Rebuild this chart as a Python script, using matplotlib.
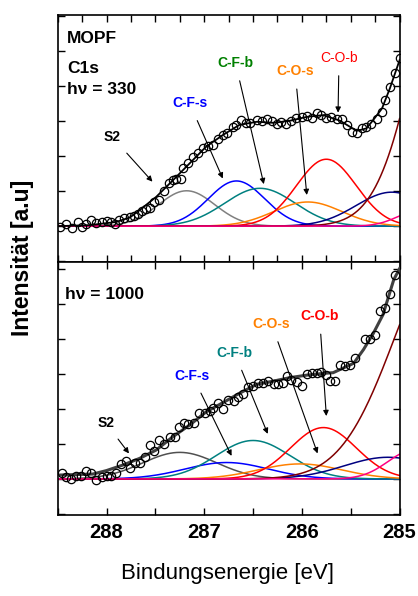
import numpy as np
import matplotlib.pyplot as plt
from matplotlib.ticker import MultipleLocator

plt.rcParams['font.family'] = ['Liberation Sans', 'DejaVu Sans']

# ---- hv = 330 (top panel) ----
e330 = [288.48, 288.41, 288.35, 288.29, 288.25, 288.21, 288.16, 288.11, 288.05, 288.00,
        287.95, 287.91, 287.87, 287.82, 287.76, 287.72, 287.68, 287.64, 287.60, 287.56,
        287.51, 287.46, 287.41, 287.36, 287.32, 287.29, 287.24, 287.22, 287.17, 287.11,
        287.06, 287.01, 286.96, 286.91, 286.86, 286.81, 286.77, 286.71, 286.67, 286.62,
        286.57, 286.53, 286.46, 286.41, 286.36, 286.31, 286.26, 286.21, 286.16, 286.11,
        286.06, 286.00, 285.95, 285.90, 285.85, 285.80, 285.75, 285.70, 285.64, 285.59,
        285.54, 285.49, 285.44, 285.39, 285.34, 285.29, 285.23, 285.18, 285.15, 285.10,
        285.05, 285.00]
i330 = [-0.02, 0.06, -0.04, 0.12, -0.02, 0.06, 0.17, 0.09, 0.12, 0.14,
        0.12, 0.06, 0.17, 0.22, 0.25, 0.29, 0.36, 0.44, 0.48, 0.53,
        0.69, 0.76, 1.01, 1.24, 1.31, 1.36, 1.36, 1.65, 1.81, 1.98,
        2.08, 2.22, 2.29, 2.31, 2.48, 2.60, 2.67, 2.82, 2.89, 3.03,
        2.95, 2.95, 3.03, 3.01, 3.05, 3.01, 2.93, 2.98, 2.91, 3.01,
        3.08, 3.12, 3.14, 3.10, 3.22, 3.17, 3.10, 3.12, 3.05, 3.05,
        2.89, 2.70, 2.67, 2.79, 2.84, 2.91, 3.05, 3.27, 3.60, 3.96,
        4.38, 4.79]
fit_e330 = [288.50, 288.17, 287.90, 287.76, 287.66, 287.49, 287.32, 287.15, 286.98, 286.81,
            286.64, 286.46, 286.29, 286.12, 285.95, 285.78, 285.61, 285.44, 285.34, 285.27,
            285.18, 285.10, 285.00]
fit_i330 = [0.00, 0.03, 0.12, 0.25, 0.46, 0.84, 1.31, 1.79, 2.27, 2.60,
            2.89, 2.98, 2.95, 3.01, 3.12, 3.17, 3.01, 2.72, 2.79, 3.03,
            3.36, 3.93, 4.74]
# peak components: S2, C-F-s, C-F-b, C-O-s, C-O-b, extra1, extra2, extra3
pos330 = [287.18, 286.67, 286.43, 285.94, 285.75, 285.08, 284.30, 284.80]
amp330 = [1.01, 1.29, 1.08, 0.69, 1.91, 0.97, 10.3, 0.44]
fwhm330 = [0.68, 0.68, 0.85, 0.82, 0.72, 0.86, 1.06, 0.52]
col330 = ['#808080', '#0000FF', '#008080', '#FF8000', '#FF0000', '#000080', '#800000', '#FF0080']

# ---- hv = 1000 (bottom panel) ----
e1000 = [288.46, 288.41, 288.36, 288.31, 288.26, 288.21, 288.16, 288.11, 288.05, 288.00,
         287.95, 287.90, 287.85, 287.80, 287.76, 287.71, 287.66, 287.61, 287.56, 287.51,
         287.46, 287.41, 287.35, 287.30, 287.26, 287.21, 287.17, 287.10, 287.05, 286.99,
         286.94, 286.91, 286.86, 286.81, 286.76, 286.70, 286.65, 286.60, 286.55, 286.50,
         286.45, 286.40, 286.35, 286.29, 286.24, 286.19, 286.15, 286.11, 286.05, 286.00,
         285.95, 285.90, 285.85, 285.80, 285.75, 285.71, 285.66, 285.61, 285.56, 285.51,
         285.46, 285.35, 285.30, 285.25, 285.20, 285.15, 285.10, 285.05]
i1000 = [0.16, 0.05, -0.01, 0.07, 0.09, 0.24, 0.16, -0.03, 0.05, 0.07,
         0.09, 0.16, 0.43, 0.52, 0.30, 0.45, 0.47, 0.64, 0.97, 0.81,
         1.10, 1.00, 1.19, 1.21, 1.48, 1.61, 1.57, 1.61, 1.88, 1.90,
         1.95, 2.02, 2.16, 1.99, 2.26, 2.23, 2.35, 2.43, 2.64, 2.66,
         2.74, 2.74, 2.79, 2.72, 2.72, 2.74, 2.95, 2.83, 2.78, 2.66,
         3.00, 3.02, 3.02, 3.07, 2.97, 2.81, 2.81, 3.26, 3.23, 3.26,
         3.45, 3.99, 3.99, 4.11, 4.81, 4.90, 5.30, 5.83]
fit_e1000 = [288.50, 288.14, 288.00, 287.83, 287.66, 287.49, 287.32, 287.15, 286.98, 286.81,
             286.64, 286.46, 286.29, 286.12, 285.95, 285.78, 285.68, 285.58, 285.47, 285.37,
             285.27, 285.17, 285.06, 285.00]
fit_i1000 = [0.11, 0.14, 0.24, 0.40, 0.59, 0.83, 1.21, 1.54, 1.92, 2.18,
             2.45, 2.71, 2.80, 2.90, 2.97, 3.02, 3.04, 3.17, 3.31, 3.70,
             4.16, 4.70, 5.70, 6.02]
pos1000 = [287.25, 286.77, 286.50, 286.02, 285.78, 285.12, 284.50, 284.86]
amp1000 = [0.76, 0.47, 1.10, 0.43, 1.47, 0.62, 6.65, 0.82]
fwhm1000 = [0.89, 1.00, 0.89, 1.00, 0.79, 1.05, 1.30, 0.61]
col1000 = ['#505050', '#0000FF', '#008080', '#FF8000', '#FF0000', '#000080', '#800000', '#FF0080']


def gauss(x, c, a, w):
    s = w / 2.3548
    return a * np.exp(-(x - c) ** 2 / (2 * s ** 2))


def draw_panel(ax, e, i, fe, fi, pos, amp, fwhm, cols, fit_color, fit_lw, minor):
    x = np.linspace(288.5, 285.0, 400)
    for c, a, w, col in zip(pos, amp, fwhm, cols):
        ax.plot(x, gauss(x, c, a, w), color=col, lw=1.1)
    ax.plot(fe, fi, color=fit_color, lw=fit_lw, zorder=3)
    ax.plot(e, i, 'o', mfc='none', mec='black', ms=6, mew=0.9, zorder=4)
    ax.set_xlim(288.5, 285.0)
    ax.xaxis.set_major_locator(MultipleLocator(1))
    ax.xaxis.set_minor_locator(MultipleLocator(minor))
    ax.yaxis.set_major_locator(MultipleLocator(1))
    ax.set_yticklabels([])
    ax.tick_params(which='both', direction='in', top=True, right=True, width=1)
    ax.tick_params(which='major', length=5)
    ax.tick_params(which='minor', length=5)
    for sp in ax.spines.values():
        sp.set_linewidth(1.2)


def label(ax, text, xy, xytext, color, weight='bold'):
    ax.annotate(text, xy=xy, xytext=xytext, textcoords='data', color=color,
                fontsize=10, fontweight=weight, ha='center', va='center',
                arrowprops=dict(arrowstyle='-|>', color='black', lw=0.8,
                                mutation_scale=8, shrinkA=6, shrinkB=0))


fig = plt.figure(figsize=(4.18, 5.96), dpi=100)
ax1 = fig.add_axes([0.138, 0.560, 0.818, 0.415])
ax2 = fig.add_axes([0.138, 0.136, 0.818, 0.424])

draw_panel(ax1, e330, i330, fit_e330, fit_i330, pos330, amp330, fwhm330, col330,
           'black', 1.3, 0.25)
ax1.set_ylim(-1.03, 6.03)
ax1.set_xticklabels([])
ax1.text(288.41, 5.36, 'MOPF', fontsize=12.5, fontweight='bold', va='center')
ax1.text(288.40, 4.50, 'C1s', fontsize=12.5, fontweight='bold', va='center')
ax1.text(288.40, 3.90, 'hν = 330', fontsize=12.5, fontweight='bold', va='center')
label(ax1, 'S2', (287.53, 1.27), (287.94, 2.54), 'black')
label(ax1, 'C-F-s', (286.81, 1.36), (287.15, 3.51), '#0000FF')
label(ax1, 'C-F-b', (286.39, 1.20), (286.68, 4.66), '#008000')
label(ax1, 'C-O-s', (285.95, 0.89), (286.07, 4.43), '#FF8000')
label(ax1, 'C-O-b', (285.63, 3.24), (285.62, 4.81), '#FF0000', weight='normal')

draw_panel(ax2, e1000, i1000, fit_e1000, fit_i1000, pos1000, amp1000, fwhm1000, col1000,
           '#404040', 2.2, 0.5)
ax2.set_ylim(-1.03, 6.2)
ax2.text(288.43, 5.27, 'hν = 1000', fontsize=12.5, fontweight='bold', va='center')
label(ax2, 'S2', (287.77, 0.73), (288.01, 1.61), 'black')
label(ax2, 'C-F-s', (286.72, 0.66), (287.12, 2.95), '#0000FF')
label(ax2, 'C-F-b', (286.35, 1.29), (286.69, 3.61), '#008080')
label(ax2, 'C-O-s', (285.84, 0.73), (286.31, 4.43), '#FF8000')
label(ax2, 'C-O-b', (285.75, 1.80), (285.82, 4.66), '#FF0000')
ax2.set_xticks([288, 287, 286, 285])
ax2.set_xticklabels(['288', '287', '286', '285'], fontweight='bold', fontsize=14.5)
ax2.tick_params(axis='x', which='major', pad=6)

fig.text(0.545, 0.037, 'Bindungsenergie [eV]', fontsize=16, ha='center', va='center')
fig.text(0.053, 0.568, 'Intensität [a.u]', fontsize=16.5, fontweight='bold',
         rotation=90, ha='center', va='center')

fig.savefig('out.png', dpi=100)
